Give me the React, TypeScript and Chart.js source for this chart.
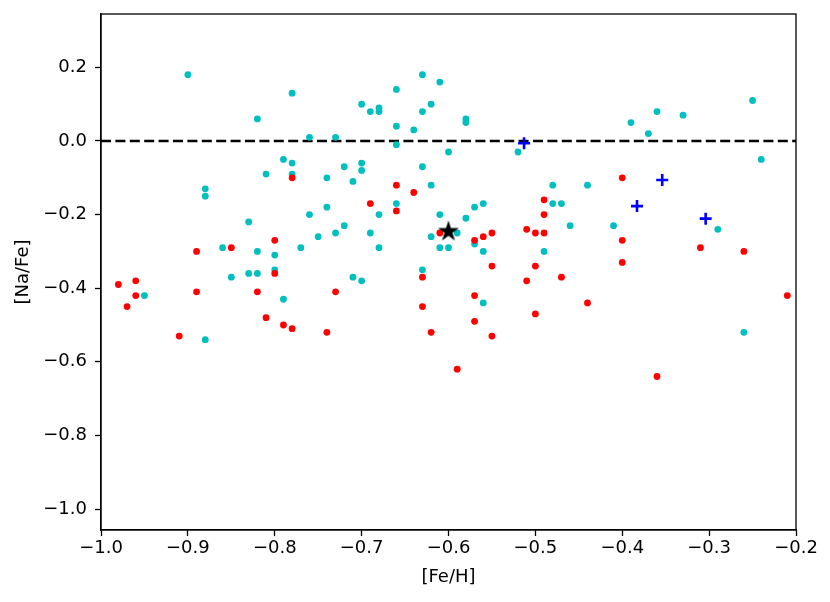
import { useEffect, useRef } from "react";
import { Chart, registerables } from "chart.js";

Chart.register(...registerables);

// ---- data ----
const cyanFeH = [
  -0.90, -0.78, -0.82, -0.76, -0.73, -0.79, -0.78, -0.78, -0.81, -0.74, -0.88, -0.88,
  -0.63, -0.61, -0.66, -0.70, -0.69, -0.68, -0.68, -0.63, -0.62, -0.66, -0.64, -0.58,
  -0.58, -0.66, -0.60, -0.52, -0.72, -0.70, -0.70, -0.71, -0.63, -0.62, -0.48,
  -0.25, -0.24, -0.39, -0.36, -0.37, -0.33, -0.44,
  -0.83, -0.76, -0.74, -0.75, -0.73, -0.86, -0.82, -0.80, -0.77, -0.85, -0.83, -0.82,
  -0.80, -0.95, -0.79, -0.88,
  -0.66, -0.68, -0.72, -0.69, -0.68, -0.61, -0.58, -0.57, -0.56, -0.62, -0.59, -0.61,
  -0.60, -0.57, -0.56, -0.63, -0.71, -0.70, -0.56, -0.48, -0.47, -0.46, -0.49, -0.41,
  -0.29, -0.26,
];
const cyanNaFe = [
  0.18, 0.13, 0.06, 0.01, 0.01, -0.05, -0.06, -0.09, -0.09, -0.10, -0.13, -0.15,
  0.18, 0.16, 0.14, 0.10, 0.08, 0.09, 0.08, 0.08, 0.10, 0.04, 0.03, 0.06,
  0.05, -0.01, -0.03, -0.03, -0.07, -0.06, -0.08, -0.11, -0.07, -0.12, -0.12,
  0.11, -0.05, 0.05, 0.08, 0.02, 0.07, -0.12,
  -0.22, -0.20, -0.18, -0.26, -0.25, -0.29, -0.30, -0.31, -0.29, -0.37, -0.36, -0.36,
  -0.35, -0.42, -0.43, -0.54,
  -0.17, -0.20, -0.23, -0.25, -0.29, -0.20, -0.21, -0.18, -0.17, -0.26, -0.25, -0.29,
  -0.29, -0.28, -0.30, -0.35, -0.37, -0.38, -0.44, -0.17, -0.17, -0.23, -0.30, -0.23,
  -0.24, -0.52,
];

const redFeH = [
  -0.78, -0.66, -0.64, -0.49, -0.40,
  -0.80, -0.85, -0.89, -0.80, -0.98, -0.96, -0.96, -0.97, -0.89, -0.82, -0.73, -0.81,
  -0.79, -0.78, -0.74, -0.91,
  -0.69, -0.66, -0.61, -0.57, -0.56, -0.55, -0.55, -0.63, -0.57, -0.63, -0.57, -0.62,
  -0.55, -0.49, -0.51, -0.50, -0.49, -0.50, -0.51, -0.47, -0.50, -0.59, -0.36,
  -0.40, -0.31, -0.26, -0.40, -0.44, -0.21,
];
const redNaFe = [
  -0.10, -0.12, -0.14, -0.16, -0.10,
  -0.27, -0.29, -0.30, -0.36, -0.39, -0.38, -0.42, -0.45, -0.41, -0.41, -0.41, -0.48,
  -0.50, -0.51, -0.52, -0.53,
  -0.17, -0.19, -0.25, -0.27, -0.26, -0.25, -0.34, -0.37, -0.42, -0.45, -0.49, -0.52,
  -0.53, -0.20, -0.24, -0.25, -0.25, -0.34, -0.38, -0.37, -0.47, -0.62, -0.64,
  -0.27, -0.29, -0.30, -0.33, -0.44, -0.42,
];

const blueFeH = [-0.513, -0.383, -0.354, -0.304];
const blueNaFe = [-0.006, -0.177, -0.106, -0.211];

const starFeH = [-0.60];
const starNaFe = [-0.246];

const refLineFeH = [-1.0, -0.2];
const refLineNaFe = [0.0, 0.0];

const xTicks = [-1.0, -0.9, -0.8, -0.7, -0.6, -0.5, -0.4, -0.3, -0.2];
const yTicks = [-1.0, -0.8, -0.6, -0.4, -0.2, 0.0, 0.2];
const xRange = [-1.0, -0.2];
const yRange = [-1.057, 0.345];

const xLabel = "[Fe/H]";
const yLabel = "[Na/Fe]";

// ---- helpers ----
const FONT = "'DejaVu Sans', sans-serif";

function pts(xs: number[], ys: number[]) {
  return xs.map((x, i) => ({ x, y: ys[i] }));
}

function fmt(v: number) {
  const s = (Math.abs(v) < 1e-9 ? 0 : v).toFixed(1);
  return s.replace("-", "\u2212");
}

function makeStar(R: number) {
  const size = Math.ceil(R * 2 + 2);
  const c = document.createElement("canvas");
  c.width = size;
  c.height = size;
  const ctx = c.getContext("2d")!;
  const cx = size / 2;
  const cy = size / 2;
  const r = R * 0.381966;
  ctx.beginPath();
  for (let i = 0; i < 10; i++) {
    const ang = -Math.PI / 2 + (i * Math.PI) / 5;
    const rad = i % 2 === 0 ? R : r;
    const px = cx + rad * Math.cos(ang);
    const py = cy + rad * Math.sin(ang);
    if (i === 0) ctx.moveTo(px, py);
    else ctx.lineTo(px, py);
  }
  ctx.closePath();
  ctx.fillStyle = "#000000";
  ctx.fill();
  return c;
}

const framePlugin = {
  id: "frame",
  afterDraw(chart: any) {
    const { ctx, chartArea } = chart;
    const { left, top, right, bottom } = chartArea;
    ctx.save();
    ctx.strokeStyle = "#000000";
    ctx.lineWidth = 1.3;
    ctx.strokeRect(left, top, right - left, bottom - top);
    ctx.restore();
  },
};

export default function App() {
  const ref = useRef<HTMLCanvasElement | null>(null);

  useEffect(() => {
    if (!ref.current) return;
    const star = makeStar(11);
    const tickFont = { family: FONT, size: 18 };
    const chart = new Chart(ref.current, {
      type: "scatter",
      data: {
        datasets: [
          {
            type: "line",
            data: pts(refLineFeH, refLineNaFe),
            borderColor: "#000000",
            borderWidth: 2.6,
            borderDash: [10, 4.4],
            pointRadius: 0,
            fill: false,
            order: 4,
          } as any,
          {
            data: pts(cyanFeH, cyanNaFe),
            backgroundColor: "#00bfbf",
            borderWidth: 0,
            pointRadius: 3.4,
            order: 3,
          },
          {
            data: pts(redFeH, redNaFe),
            backgroundColor: "#ff0000",
            borderWidth: 0,
            pointRadius: 3.4,
            order: 2,
          },
          {
            data: pts(blueFeH, blueNaFe),
            pointStyle: "cross",
            borderColor: "#0000ff",
            backgroundColor: "#0000ff",
            borderWidth: 2.6,
            pointRadius: 6,
            order: 1,
          },
          {
            data: pts(starFeH, starNaFe),
            pointStyle: star as any,
            pointRadius: 11,
            order: 0,
          },
        ],
      },
      options: {
        animation: false,
        responsive: false,
        devicePixelRatio: 1,
        events: [],
        layout: { padding: { left: 0, right: 34, top: 14, bottom: 0 } },
        plugins: {
          legend: { display: false },
          tooltip: { enabled: false },
        },
        scales: {
          x: {
            type: "linear",
            position: "bottom",
            min: xRange[0],
            max: xRange[1],
            afterBuildTicks: (s: any) => {
              s.ticks = xTicks.map((v) => ({ value: v }));
            },
            afterFit: (s: any) => {
              s.height = 72;
              s.paddingLeft = 0;
              s.paddingRight = 0;
            },
            ticks: {
              callback: (v: any) => fmt(Number(v)),
              font: tickFont,
              color: "#000000",
              padding: 2,
              autoSkip: false,
              maxRotation: 0,
              minRotation: 0,
            },
            grid: {
              drawOnChartArea: false,
              drawTicks: true,
              tickLength: 6,
              color: "#000000",
              tickColor: "#000000",
              tickWidth: 1.3,
            },
            border: { display: true, color: "#000000", width: 1.3 },
            title: {
              display: true,
              text: xLabel,
              font: tickFont,
              color: "#000000",
              padding: { top: 0, bottom: 14 },
            },
          },
          y: {
            type: "linear",
            position: "left",
            min: yRange[0],
            max: yRange[1],
            afterBuildTicks: (s: any) => {
              s.ticks = yTicks.map((v) => ({ value: v }));
            },
            afterFit: (s: any) => {
              s.width = 101;
              s.paddingTop = 0;
              s.paddingBottom = 0;
            },
            ticks: {
              callback: (v: any) => fmt(Number(v)),
              font: tickFont,
              color: "#000000",
              padding: 8,
              autoSkip: false,
            },
            grid: {
              drawOnChartArea: false,
              drawTicks: true,
              tickLength: 6,
              color: "#000000",
              tickColor: "#000000",
              tickWidth: 1.3,
            },
            border: { display: true, color: "#000000", width: 1.3 },
            title: {
              display: true,
              text: yLabel,
              font: tickFont,
              color: "#000000",
              padding: { top: 12.7, bottom: 0 },
            },
          },
        },
      },
      plugins: [framePlugin],
    });
    return () => chart.destroy();
  }, []);

  return (
    <div style={{ position: "fixed", left: 0, top: 0, width: 830, height: 602, background: "#ffffff" }}>
      <canvas ref={ref} width={830} height={602} style={{ display: "block", width: 830, height: 602 }} />
    </div>
  );
}
